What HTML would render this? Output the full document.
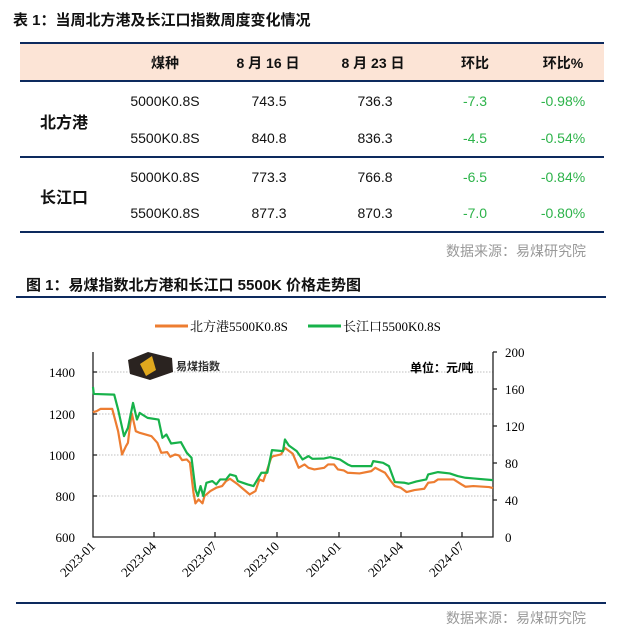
<!DOCTYPE html>
<html><head><meta charset="utf-8"><style>
body{margin:0;width:617px;height:634px;background:#fff;position:relative;overflow:hidden;font-family:"Liberation Sans","Noto Sans CJK SC",sans-serif;color:#111}
.a{position:absolute;white-space:nowrap}
.c{transform:translateX(-50%)}
.g{color:#2db34a}
.b{font-weight:bold}
</style></head><body>
<div class="a b" style="left:13px;top:9px;font-size:15px">表 1：当周北方港及长江口指数周度变化情况</div>
<div class="a" style="left:20px;top:42px;width:584px;height:40px;background:#fce4d6;border-top:2px solid #0d2a5e;border-bottom:2px solid #0d2a5e;box-sizing:border-box"></div>
<div class="a" style="left:20px;top:156px;width:584px;height:2px;background:#0d2a5e"></div>
<div class="a" style="left:20px;top:231px;width:584px;height:2px;background:#0d2a5e"></div>
<div class="a b c" style="left:165px;top:53px;font-size:14px">煤种</div>
<div class="a b c" style="left:268px;top:53px;font-size:14px">8 月 16 日</div>
<div class="a b c" style="left:373px;top:53px;font-size:14px">8 月 23 日</div>
<div class="a b c" style="left:475px;top:53px;font-size:14px">环比</div>
<div class="a b c" style="left:563px;top:53px;font-size:14px">环比%</div>
<div class="a b" style="left:40px;top:109px;font-size:16px">北方港</div>
<div class="a b" style="left:40px;top:184px;font-size:16px">长江口</div>
<div style="font-size:14px">
<div class="a c" style="left:165px;top:93px">5000K0.8S</div><div class="a c" style="left:269px;top:93px">743.5</div><div class="a c" style="left:375px;top:93px">736.3</div><div class="a c g" style="left:475px;top:93px">-7.3</div><div class="a c g" style="left:563px;top:93px">-0.98%</div>
<div class="a c" style="left:165px;top:130px">5500K0.8S</div><div class="a c" style="left:269px;top:130px">840.8</div><div class="a c" style="left:375px;top:130px">836.3</div><div class="a c g" style="left:475px;top:130px">-4.5</div><div class="a c g" style="left:563px;top:130px">-0.54%</div>
<div class="a c" style="left:165px;top:169px">5000K0.8S</div><div class="a c" style="left:269px;top:169px">773.3</div><div class="a c" style="left:375px;top:169px">766.8</div><div class="a c g" style="left:475px;top:169px">-6.5</div><div class="a c g" style="left:563px;top:169px">-0.84%</div>
<div class="a c" style="left:165px;top:205px">5500K0.8S</div><div class="a c" style="left:269px;top:205px">877.3</div><div class="a c" style="left:375px;top:205px">870.3</div><div class="a c g" style="left:475px;top:205px">-7.0</div><div class="a c g" style="left:563px;top:205px">-0.80%</div>
</div>
<div class="a" style="left:446px;top:241px;font-size:14px;color:#999">数据来源：易煤研究院</div>
<div class="a b" style="left:26px;top:274px;font-size:15px">图 1：易煤指数北方港和长江口 5500K 价格走势图</div>
<div class="a" style="left:16px;top:296px;width:590px;height:2px;background:#0d2a5e"></div>
<div class="a" style="left:16px;top:602px;width:590px;height:2px;background:#0d2a5e"></div>
<div class="a" style="left:446px;top:608px;font-size:14px;color:#999">数据来源：易煤研究院</div>
<svg class="a" style="left:0;top:0" width="617" height="634" font-family="Liberation Serif,Noto Serif CJK SC,serif">
<line x1="155" y1="326" x2="188" y2="326" stroke="#ed7d31" stroke-width="3"/>
<text x="190" y="331" font-size="13">北方港5500K0.8S</text>
<line x1="308" y1="326" x2="341" y2="326" stroke="#17b24a" stroke-width="3"/>
<text x="343" y="331" font-size="13">长江口5500K0.8S</text>
<g stroke="#aaa" stroke-dasharray="1.5,1.5" stroke-width="0.8">
<line x1="93" y1="372" x2="493" y2="372"/><line x1="93" y1="414" x2="493" y2="414"/><line x1="93" y1="455" x2="493" y2="455"/><line x1="93" y1="496" x2="493" y2="496"/></g>
<g stroke="#222" stroke-width="1.3" fill="none">
<polyline points="93,352 93,537 493,537 493,352"/>
<line x1="93" y1="372" x2="97" y2="372"/><line x1="93" y1="414" x2="97" y2="414"/><line x1="93" y1="455" x2="97" y2="455"/><line x1="93" y1="496" x2="97" y2="496"/>
<line x1="493" y1="352" x2="497" y2="352"/><line x1="493" y1="389" x2="497" y2="389"/><line x1="493" y1="426" x2="497" y2="426"/><line x1="493" y1="463" x2="497" y2="463"/><line x1="493" y1="500" x2="497" y2="500"/>
<line x1="154" y1="537" x2="154" y2="532"/><line x1="215" y1="537" x2="215" y2="532"/><line x1="277" y1="537" x2="277" y2="532"/><line x1="339" y1="537" x2="339" y2="532"/><line x1="401" y1="537" x2="401" y2="532"/><line x1="462" y1="537" x2="462" y2="532"/>
</g>
<g font-size="13" text-anchor="end"><text x="75" y="377">1400</text><text x="75" y="419">1200</text><text x="75" y="460">1000</text><text x="75" y="501">800</text><text x="75" y="542">600</text></g>
<g font-size="13"><text x="505" y="357">200</text><text x="505" y="394">160</text><text x="505" y="431">120</text><text x="505" y="468">80</text><text x="505" y="505">40</text><text x="505" y="542">0</text></g>
<g font-size="13" text-anchor="end">
<text transform="translate(96,547) rotate(-45)">2023-01</text><text transform="translate(157,547) rotate(-45)">2023-04</text><text transform="translate(218,547) rotate(-45)">2023-07</text><text transform="translate(280,547) rotate(-45)">2023-10</text><text transform="translate(342,547) rotate(-45)">2024-01</text><text transform="translate(404,547) rotate(-45)">2024-04</text><text transform="translate(465,547) rotate(-45)">2024-07</text></g>
<text x="410" y="372" font-size="12" font-weight="bold" font-family="Liberation Sans,Noto Sans CJK SC,sans-serif">单位：元/吨</text>
<polygon points="128,360 148,352 172,358 173,372 150,380 130,374" fill="#2a2320"/>
<polygon points="140,364 152,356 156,370 146,376" fill="#e0a81e"/>
<text x="176" y="370" font-size="11" font-weight="bold" font-family="Liberation Sans,Noto Sans CJK SC,sans-serif" fill="#333">易煤指数</text>
<g transform="translate(2.33,299.77) scale(0.3925,0.3327)" fill="none" stroke-width="3" stroke-linejoin="round">
<polyline vector-effect="non-scaling-stroke" stroke="#ed7d31" stroke-width="2.2" points="231,338 240,335 250,328 280,328 295,395 305,465 315,440 320,430 325,380 330,342 340,395 350,400 380,410 395,430 405,460 420,458 428,472 440,465 450,468 458,482 470,480 478,490 487,580 492,612 500,600 510,612 515,590 530,575 545,565 560,560 570,545 580,538 600,555 625,580 630,585 645,575 655,540 665,545 685,475 690,470 710,465 720,445 740,463 755,505 770,495 780,505 795,510 820,505 830,495 845,495 855,510 870,513 880,520 910,522 940,515 950,505 975,520 990,545 1000,560 1015,565 1030,578 1050,572 1075,568 1085,550 1100,548 1110,540 1150,540 1170,555 1180,562 1200,560 1240,563 1250,566"/>
<polyline vector-effect="non-scaling-stroke" stroke="#17b24a" stroke-width="2.2" points="231,262 233,283 285,285 295,330 310,410 320,385 333,310 343,360 350,340 370,355 398,360 408,415 418,405 430,432 455,428 470,460 482,475 492,570 498,590 505,560 512,590 520,550 535,545 545,555 555,540 570,540 580,525 595,530 600,545 625,555 640,560 660,520 675,520 687,452 715,455 720,420 730,438 750,455 765,480 780,470 790,478 820,477 835,473 860,480 880,495 890,500 940,500 945,485 970,490 985,500 1000,548 1025,550 1035,553 1055,546 1080,540 1085,525 1110,518 1140,522 1160,530 1180,535 1200,537 1250,542"/>
</g>
</svg>
</body></html>
